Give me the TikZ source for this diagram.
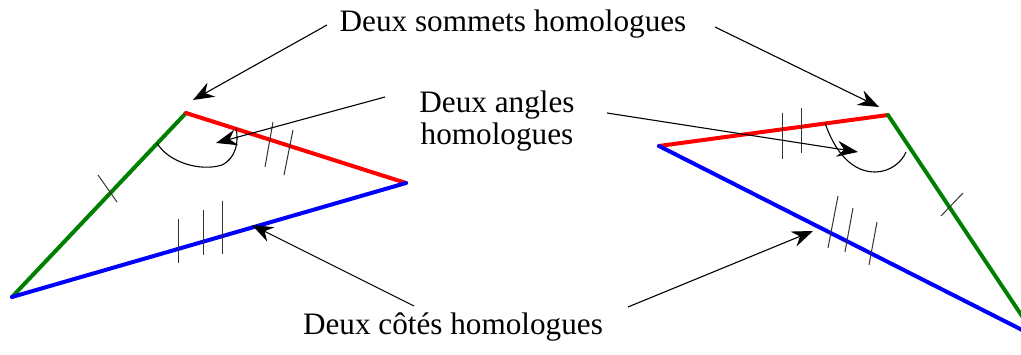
\documentclass[tikz,border=0pt]{standalone}
\usepackage{fontspec}
\setmainfont{Liberation Serif}
\usetikzlibrary{arrows.meta}
\definecolor{sidered}{RGB}{255,0,0}
\definecolor{sidegreen}{RGB}{0,128,0}
\definecolor{sideblue}{RGB}{0,0,255}
\begin{document}
\begin{tikzpicture}[x=1pt,y=-1pt,
  side/.style={line width=4pt, line cap=round, line join=round},
  tickmark/.style={line width=1pt, black!80},
  callout/.style={line width=1.1pt, -{Stealth[length=21pt,width=16pt,inset=7pt]}},
  anglearc/.style={line width=1.1pt},
  lbl/.style={font=\fontsize{31.2}{32}\selectfont, inner sep=0pt, align=center}]
\useasboundingbox (0,0) rectangle (1021,355);
\clip (0,0) rectangle (1021,355);
% vertices
\coordinate (A1) at (186,113);
\coordinate (B1) at (406,183);
\coordinate (C1) at (12,297);
\coordinate (A2) at (888,115);
\coordinate (B2) at (659,146);
\coordinate (C2) at (1036,337);
% triangles
\draw[side, sidegreen] (A1) -- (C1);
\draw[side, sidered] (A1) -- (B1);
\draw[side, sideblue] (C1) -- (B1);
\draw[side, sidered] (A2) -- (B2);
\draw[side, sideblue] (B2) -- (C2);
\draw[side, sidegreen] (A2) -- (C2);
% tick marks
\draw[tickmark] (98,175) -- (117,202);
\draw[tickmark] (273,122) -- (265,167);
\draw[tickmark] (293,130) -- (284,175);
\draw[tickmark] (178,219) -- (178,263);
\draw[tickmark] (203,210) -- (203,255);
\draw[tickmark] (222,201) -- (222,254);
\draw[tickmark] (782,113) -- (782,159);
\draw[tickmark] (801,108) -- (801,153);
\draw[tickmark] (963,193) -- (941,216);
\draw[tickmark] (838,196) -- (828,248);
\draw[tickmark] (853,208) -- (845,252);
\draw[tickmark] (877,222) -- (869,265);
% angle arcs
\draw[anglearc] (157,143) .. controls (168,162) and (200,172) .. (222,165) .. controls (236,158) and (239,142) .. (236,128);
\draw[anglearc] (825,123) .. controls (835,152) and (852,172) .. (875,172) .. controls (890,172) and (902,162) .. (906,152);
% labels
\node[lbl, anchor=base] (sommets) at (513,32) {Deux sommets homologues};
\node[lbl, anchor=base] (angles) at (497,145) {Deux angles\\homologues};
\node[lbl, anchor=base] (cotes) at (453,335) {Deux côtés homologues};
% callout ends
\coordinate (s1) at (327,25);
\coordinate (s1t) at (193,100);
\coordinate (s2) at (715,27);
\coordinate (s2t) at (879,107);
\coordinate (a1) at (385,97);
\coordinate (a1t) at (216,143);
\coordinate (a2) at (607,113);
\coordinate (a2t) at (858,152);
\coordinate (c1) at (414,306);
\coordinate (c1t) at (252,225);
\coordinate (c2) at (628,307);
\coordinate (c2t) at (813,231);
\draw[callout] (s1) -- (s1t);
\draw[callout] (s2) -- (s2t);
\draw[callout] (a1) -- (a1t);
\draw[callout] (a2) -- (a2t);
\draw[callout] (c1) -- (c1t);
\draw[callout] (c2) -- (c2t);
\end{tikzpicture}
\end{document}
